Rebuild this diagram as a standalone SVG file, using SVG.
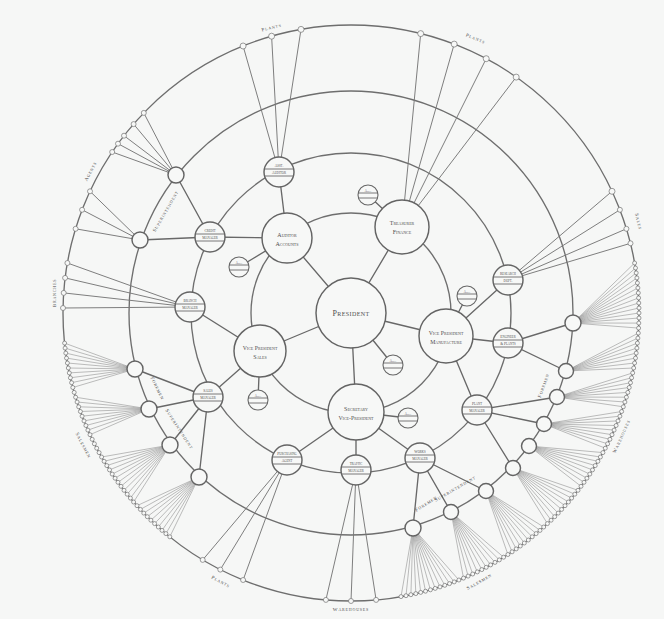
<svg xmlns="http://www.w3.org/2000/svg" width="664" height="619" viewBox="0 0 664 619">
<style>
.bg{fill:#f6f7f6}
.ring{fill:none;stroke:#6e6e6e;stroke-width:1.35}
.ln{fill:none;stroke:#686868;stroke-width:1.35}
.ln2{fill:none;stroke:#777;stroke-width:0.95}
.fan{fill:none;stroke:#888;stroke-width:0.55}
.nd{fill:#f7f8f7;stroke:#646464;stroke-width:1.45}
.sm{fill:#f7f8f7;stroke:#666;stroke-width:1.1}
.ch{stroke:#6a6a6a;stroke-width:0.9;fill:none}
.bd{fill:#f7f8f7;stroke:#737373;stroke-width:0.7}
.t{font-family:"Liberation Serif","DejaVu Serif",serif;font-variant:small-caps;fill:#4e4e4e;text-anchor:middle}
.lb{font-family:"Liberation Serif","DejaVu Serif",serif;font-variant:small-caps;fill:#4e4e4e;text-anchor:middle;font-size:5px;letter-spacing:0.8px}
</style>
<rect class="bg" width="664" height="619"/>

<g id="rings">
<circle class="ring" cx="351" cy="313" r="288"/>
<circle class="ring" cx="351" cy="313" r="222"/>
<circle class="ring" cx="351" cy="313" r="160"/>
<circle class="ring" cx="351" cy="313" r="100"/>
</g>

<g id="connectors">
<path class="ln" d="M351 313L287 238M351 313L402 227M351 313L260 351M351 313L446 336M351 313L356 412"/>
<path class="ln" d="M368 195L402 227M239 267L287 238M258 400L260 351M393 365L351 313M408 418L356 412M467 296L446 336"/>
<path class="ln" d="M279 172L287 238M210 237L287 238M190 307L260 351M208 397L260 351M287 460L356 412M356 470L356 412M420 458L356 412M477 410L446 336M508 343L446 336M508 280L446 336"/>
<path class="ln" d="M210 237L140 240M210 237L176 175M208 397L135 369M208 397L149 409M208 397L170 445M208 397L199 477M508 343L573 323M508 343L566 371M477 410L557 397M477 410L544 424M477 410L513 468M420 458L486 491M420 458L451 512M420 458L413 528"/>
<path class="ln2" d="M279 172L243.1 46M279 172L271.6 36.2M279 172L301 29.4"/>
<path class="ln2" d="M402 227L420.7 33.6M402 227L454.2 44.1M402 227L486.2 58.7M402 227L516.2 77.1"/>
<path class="ln2" d="M508 280L612 191.3M508 280L619.9 209.8M508 280L626.4 228.8M508 280L630.5 243.3"/>
<path class="ln2" d="M190 307L63 308M190 307L63.7 292.9M190 307L65.1 277.9M190 307L67.4 263"/>
<path class="ln2" d="M140 240L75.6 228.8M140 240L82.1 209.8M140 240L90 191.3"/>
<path class="ln2" d="M176 175L112.2 152M176 175L118 143.7M176 175L124 135.7M176 175L133.6 124.1M176 175L143.8 112.9"/>
<path class="ln2" d="M287 460L243.1 580M287 460L220.3 569.6M287 460L202.7 559.9"/>
<path class="ln2" d="M356 470L376.1 599.9M356 470L351 601M356 470L325.9 599.9"/>
<path class="fan" d="M573 323L634.6 263M573 323L635.5 268M573 323L636.2 272.9M573 323L636.9 277.9M573 323L637.4 282.9M573 323L637.9 287.9M573 323L638.3 292.9M573 323L638.6 297.9M573 323L638.8 303M573 323L639 308M573 323L639 313M573 323L639 318M573 323L638.8 323.1M573 323L638.6 328.1"/>
<path class="fan" d="M566 371L638.3 333.1M566 371L637.9 338.1M566 371L637.4 343.1M566 371L636.9 348.1M566 371L636.2 353.1M566 371L635.5 358.1M566 371L634.6 363M566 371L633.7 368"/>
<path class="fan" d="M557 397L632.7 372.9M557 397L631.6 377.8M557 397L630.5 382.7M557 397L629.2 387.5M557 397L627.8 392.4M557 397L626.4 397.2M557 397L624.9 402M557 397L623.3 406.8"/>
<path class="fan" d="M544 424L621.6 411.5M544 424L619.9 416.2M544 424L618 420.9M544 424L616.1 425.5M544 424L614.1 430.1M544 424L612 434.7M544 424L609.9 439.3M544 424L607.6 443.8M544 424L605.3 448.2"/>
<path class="fan" d="M529 446L602.9 452.6M529 446L600.4 457M529 446L597.9 461.3M529 446L595.2 465.6M529 446L592.5 469.9M529 446L589.8 474.1M529 446L586.9 478.2M529 446L584 482.3M529 446L581 486.3"/>
<path class="fan" d="M513 468L578 490.3M513 468L574.8 494.2M513 468L571.6 498.1M513 468L568.4 502M513 468L565 505.7M513 468L561.6 509.4M513 468L558.2 513.1M513 468L554.7 516.7M513 468L551.1 520.2M513 468L547.4 523.6"/>
<path class="fan" d="M486 491L543.7 527M486 491L540 530.4M486 491L536.1 533.6M486 491L532.2 536.8M486 491L528.3 540M486 491L524.3 543M486 491L520.3 546M486 491L516.2 548.9M486 491L512.1 551.8M486 491L507.9 554.5"/>
<path class="fan" d="M451 512L503.6 557.2M451 512L499.3 559.9M451 512L495 562.4M451 512L490.6 564.9M451 512L486.2 567.3M451 512L481.8 569.6M451 512L477.3 571.9M451 512L472.7 574M451 512L468.1 576.1M451 512L463.5 578.1"/>
<path class="fan" d="M413 528L458.9 580M413 528L454.2 581.9M413 528L449.5 583.6M413 528L444.8 585.3M413 528L440 586.9M413 528L435.2 588.4M413 528L430.4 589.8M413 528L425.5 591.2M413 528L420.7 592.4M413 528L415.8 593.6M413 528L410.9 594.7M413 528L406 595.7M413 528L401 596.6"/>
<path class="fan" d="M199 477L169.8 536.8M199 477L165.9 533.6M199 477L162 530.4M199 477L158.3 527M199 477L154.6 523.6M199 477L150.9 520.2M199 477L147.3 516.7M199 477L143.8 513.1M199 477L140.4 509.4M199 477L137 505.7"/>
<path class="fan" d="M170 445L133.6 502M170 445L130.4 498.1M170 445L127.2 494.2M170 445L124 490.3M170 445L121 486.3M170 445L118 482.3M170 445L115.1 478.2M170 445L112.2 474.1M170 445L109.5 469.9M170 445L106.8 465.6M170 445L104.1 461.3M170 445L101.6 457"/>
<path class="fan" d="M149 409L90 434.7M149 409L87.9 430.1M149 409L85.9 425.5M149 409L84 420.9M149 409L82.1 416.2M149 409L80.4 411.5M149 409L78.7 406.8M149 409L77.1 402M149 409L75.6 397.2"/>
<path class="fan" d="M135 369L72.8 387.5M135 369L71.6 382.7M135 369L70.4 377.8M135 369L69.3 372.9M135 369L68.3 368M135 369L67.4 363M135 369L66.5 358.1M135 369L65.8 353.1M135 369L65.1 348.1M135 369L64.6 343.1"/>
</g>

<g id="outer-beads">
<circle class="bd" cx="243.1" cy="46" r="3"/><circle class="bd" cx="271.6" cy="36.2" r="3"/><circle class="bd" cx="301" cy="29.4" r="3"/>
<circle class="bd" cx="420.7" cy="33.6" r="3"/><circle class="bd" cx="454.2" cy="44.1" r="3"/><circle class="bd" cx="486.2" cy="58.7" r="3"/><circle class="bd" cx="516.2" cy="77.1" r="3"/>
<circle class="bd" cx="612" cy="191.3" r="3"/><circle class="bd" cx="619.9" cy="209.8" r="2.5"/><circle class="bd" cx="626.4" cy="228.8" r="2.5"/><circle class="bd" cx="630.5" cy="243.3" r="2.5"/>
<circle class="bd" cx="63" cy="308" r="2.5"/><circle class="bd" cx="63.7" cy="292.9" r="2.5"/><circle class="bd" cx="65.1" cy="277.9" r="2.5"/><circle class="bd" cx="67.4" cy="263" r="2.5"/>
<circle class="bd" cx="75.6" cy="228.8" r="2.5"/><circle class="bd" cx="82.1" cy="209.8" r="2.5"/><circle class="bd" cx="90" cy="191.3" r="2.5"/>
<circle class="bd" cx="112.2" cy="152" r="2.5"/><circle class="bd" cx="118" cy="143.7" r="2.5"/><circle class="bd" cx="124" cy="135.7" r="2.5"/><circle class="bd" cx="133.6" cy="124.1" r="2.5"/><circle class="bd" cx="143.8" cy="112.9" r="2.5"/>
<circle class="bd" cx="243.1" cy="580" r="2.5"/><circle class="bd" cx="220.3" cy="569.6" r="2.5"/><circle class="bd" cx="202.7" cy="559.9" r="2.5"/>
<circle class="bd" cx="376.1" cy="599.9" r="2.5"/><circle class="bd" cx="351" cy="601" r="2.5"/><circle class="bd" cx="325.9" cy="599.9" r="2.5"/>
<circle class="bd" cx="634.6" cy="263" r="2"/><circle class="bd" cx="635.5" cy="268" r="2"/><circle class="bd" cx="636.2" cy="272.9" r="2"/><circle class="bd" cx="636.9" cy="277.9" r="2"/><circle class="bd" cx="637.4" cy="282.9" r="2"/><circle class="bd" cx="637.9" cy="287.9" r="2"/><circle class="bd" cx="638.3" cy="292.9" r="2"/><circle class="bd" cx="638.6" cy="297.9" r="2"/><circle class="bd" cx="638.8" cy="303" r="2"/><circle class="bd" cx="639" cy="308" r="2"/><circle class="bd" cx="639" cy="313" r="2"/><circle class="bd" cx="639" cy="318" r="2"/><circle class="bd" cx="638.8" cy="323.1" r="2"/><circle class="bd" cx="638.6" cy="328.1" r="2"/>
<circle class="bd" cx="638.3" cy="333.1" r="2"/><circle class="bd" cx="637.9" cy="338.1" r="2"/><circle class="bd" cx="637.4" cy="343.1" r="2"/><circle class="bd" cx="636.9" cy="348.1" r="2"/><circle class="bd" cx="636.2" cy="353.1" r="2"/><circle class="bd" cx="635.5" cy="358.1" r="2"/><circle class="bd" cx="634.6" cy="363" r="2"/><circle class="bd" cx="633.7" cy="368" r="2"/>
<circle class="bd" cx="632.7" cy="372.9" r="2"/><circle class="bd" cx="631.6" cy="377.8" r="2"/><circle class="bd" cx="630.5" cy="382.7" r="2"/><circle class="bd" cx="629.2" cy="387.5" r="2"/><circle class="bd" cx="627.8" cy="392.4" r="2"/><circle class="bd" cx="626.4" cy="397.2" r="2"/><circle class="bd" cx="624.9" cy="402" r="2"/><circle class="bd" cx="623.3" cy="406.8" r="2"/>
<circle class="bd" cx="621.6" cy="411.5" r="2"/><circle class="bd" cx="619.9" cy="416.2" r="2"/><circle class="bd" cx="618" cy="420.9" r="2"/><circle class="bd" cx="616.1" cy="425.5" r="2"/><circle class="bd" cx="614.1" cy="430.1" r="2"/><circle class="bd" cx="612" cy="434.7" r="2"/><circle class="bd" cx="609.9" cy="439.3" r="2"/><circle class="bd" cx="607.6" cy="443.8" r="2"/><circle class="bd" cx="605.3" cy="448.2" r="2"/>
<circle class="bd" cx="602.9" cy="452.6" r="2"/><circle class="bd" cx="600.4" cy="457" r="2"/><circle class="bd" cx="597.9" cy="461.3" r="2"/><circle class="bd" cx="595.2" cy="465.6" r="2"/><circle class="bd" cx="592.5" cy="469.9" r="2"/><circle class="bd" cx="589.8" cy="474.1" r="2"/><circle class="bd" cx="586.9" cy="478.2" r="2"/><circle class="bd" cx="584" cy="482.3" r="2"/><circle class="bd" cx="581" cy="486.3" r="2"/>
<circle class="bd" cx="578" cy="490.3" r="2"/><circle class="bd" cx="574.8" cy="494.2" r="2"/><circle class="bd" cx="571.6" cy="498.1" r="2"/><circle class="bd" cx="568.4" cy="502" r="2"/><circle class="bd" cx="565" cy="505.7" r="2"/><circle class="bd" cx="561.6" cy="509.4" r="2"/><circle class="bd" cx="558.2" cy="513.1" r="2"/><circle class="bd" cx="554.7" cy="516.7" r="2"/><circle class="bd" cx="551.1" cy="520.2" r="2"/><circle class="bd" cx="547.4" cy="523.6" r="2"/>
<circle class="bd" cx="543.7" cy="527" r="2"/><circle class="bd" cx="540" cy="530.4" r="2"/><circle class="bd" cx="536.1" cy="533.6" r="2"/><circle class="bd" cx="532.2" cy="536.8" r="2"/><circle class="bd" cx="528.3" cy="540" r="2"/><circle class="bd" cx="524.3" cy="543" r="2"/><circle class="bd" cx="520.3" cy="546" r="2"/><circle class="bd" cx="516.2" cy="548.9" r="2"/><circle class="bd" cx="512.1" cy="551.8" r="2"/><circle class="bd" cx="507.9" cy="554.5" r="2"/>
<circle class="bd" cx="503.6" cy="557.2" r="2"/><circle class="bd" cx="499.3" cy="559.9" r="2"/><circle class="bd" cx="495" cy="562.4" r="2"/><circle class="bd" cx="490.6" cy="564.9" r="2"/><circle class="bd" cx="486.2" cy="567.3" r="2"/><circle class="bd" cx="481.8" cy="569.6" r="2"/><circle class="bd" cx="477.3" cy="571.9" r="2"/><circle class="bd" cx="472.7" cy="574" r="2"/><circle class="bd" cx="468.1" cy="576.1" r="2"/><circle class="bd" cx="463.5" cy="578.1" r="2"/>
<circle class="bd" cx="458.9" cy="580" r="2"/><circle class="bd" cx="454.2" cy="581.9" r="2"/><circle class="bd" cx="449.5" cy="583.6" r="2"/><circle class="bd" cx="444.8" cy="585.3" r="2"/><circle class="bd" cx="440" cy="586.9" r="2"/><circle class="bd" cx="435.2" cy="588.4" r="2"/><circle class="bd" cx="430.4" cy="589.8" r="2"/><circle class="bd" cx="425.5" cy="591.2" r="2"/><circle class="bd" cx="420.7" cy="592.4" r="2"/><circle class="bd" cx="415.8" cy="593.6" r="2"/><circle class="bd" cx="410.9" cy="594.7" r="2"/><circle class="bd" cx="406" cy="595.7" r="2"/><circle class="bd" cx="401" cy="596.6" r="2"/>
<circle class="bd" cx="169.8" cy="536.8" r="2"/><circle class="bd" cx="165.9" cy="533.6" r="2"/><circle class="bd" cx="162" cy="530.4" r="2"/><circle class="bd" cx="158.3" cy="527" r="2"/><circle class="bd" cx="154.6" cy="523.6" r="2"/><circle class="bd" cx="150.9" cy="520.2" r="2"/><circle class="bd" cx="147.3" cy="516.7" r="2"/><circle class="bd" cx="143.8" cy="513.1" r="2"/><circle class="bd" cx="140.4" cy="509.4" r="2"/><circle class="bd" cx="137" cy="505.7" r="2"/>
<circle class="bd" cx="133.6" cy="502" r="2"/><circle class="bd" cx="130.4" cy="498.1" r="2"/><circle class="bd" cx="127.2" cy="494.2" r="2"/><circle class="bd" cx="124" cy="490.3" r="2"/><circle class="bd" cx="121" cy="486.3" r="2"/><circle class="bd" cx="118" cy="482.3" r="2"/><circle class="bd" cx="115.1" cy="478.2" r="2"/><circle class="bd" cx="112.2" cy="474.1" r="2"/><circle class="bd" cx="109.5" cy="469.9" r="2"/><circle class="bd" cx="106.8" cy="465.6" r="2"/><circle class="bd" cx="104.1" cy="461.3" r="2"/><circle class="bd" cx="101.6" cy="457" r="2"/>
<circle class="bd" cx="99.1" cy="452.6" r="2"/><circle class="bd" cx="96.7" cy="448.2" r="2"/><circle class="bd" cx="94.4" cy="443.8" r="2"/><circle class="bd" cx="92.2" cy="439.3" r="2"/>
<circle class="bd" cx="90" cy="434.7" r="2"/><circle class="bd" cx="87.9" cy="430.1" r="2"/><circle class="bd" cx="85.9" cy="425.5" r="2"/><circle class="bd" cx="84" cy="420.9" r="2"/><circle class="bd" cx="82.1" cy="416.2" r="2"/><circle class="bd" cx="80.4" cy="411.5" r="2"/><circle class="bd" cx="78.7" cy="406.8" r="2"/><circle class="bd" cx="77.1" cy="402" r="2"/><circle class="bd" cx="75.6" cy="397.2" r="2"/><circle class="bd" cx="74.2" cy="392.4" r="2"/>
<circle class="bd" cx="72.8" cy="387.5" r="2"/><circle class="bd" cx="71.6" cy="382.7" r="2"/><circle class="bd" cx="70.4" cy="377.8" r="2"/><circle class="bd" cx="69.3" cy="372.9" r="2"/><circle class="bd" cx="68.3" cy="368" r="2"/><circle class="bd" cx="67.4" cy="363" r="2"/><circle class="bd" cx="66.5" cy="358.1" r="2"/><circle class="bd" cx="65.8" cy="353.1" r="2"/><circle class="bd" cx="65.1" cy="348.1" r="2"/><circle class="bd" cx="64.6" cy="343.1" r="2"/>
</g>

<g id="ring3-nodes">
<circle id="r3a" class="nd" cx="176" cy="175" r="8"/>
<circle id="r3b" class="nd" cx="140" cy="240" r="8"/>
<circle id="r3c" class="nd" cx="135" cy="369" r="8"/>
<circle id="r3d" class="nd" cx="149" cy="409" r="8"/>
<circle id="r3e" class="nd" cx="170" cy="445" r="8"/>
<circle id="r3f" class="nd" cx="199" cy="477" r="8"/>
<circle id="r3g" class="nd" cx="573" cy="323" r="8"/>
<circle id="r3h" class="nd" cx="566" cy="371" r="7.5"/>
<circle id="r3i" class="nd" cx="557" cy="397" r="7.5"/>
<circle id="r3j" class="nd" cx="544" cy="424" r="7.5"/>
<circle id="r3k" class="nd" cx="529" cy="446" r="7.5"/>
<circle id="r3l" class="nd" cx="513" cy="468" r="7.5"/>
<circle id="r3m" class="nd" cx="486" cy="491" r="7.5"/>
<circle id="r3n" class="nd" cx="451" cy="512" r="7.5"/>
<circle id="r3o" class="nd" cx="413" cy="528" r="8"/>
</g>

<g id="president" transform="translate(351 313)">
<circle class="nd" r="35"/>
<text class="t" y="2.5" font-size="8" letter-spacing="0.4">President</text>
</g>
<g id="auditor" transform="translate(287 238)">
<circle class="nd" r="25"/>
<text class="t" y="-1" font-size="6">Auditor</text>
<text class="t" y="7.5" font-size="6">Accounts</text>
</g>
<g id="treasurer" transform="translate(402 227)">
<circle class="nd" r="27"/>
<text class="t" y="-2" font-size="6">Treasurer</text>
<text class="t" y="7" font-size="6">Finance</text>
</g>
<g id="vp-sales" transform="translate(260 351)">
<circle class="nd" r="26"/>
<text class="t" y="-1" font-size="5.8">Vice President</text>
<text class="t" y="8" font-size="6">Sales</text>
</g>
<g id="vp-manufacture" transform="translate(446 336)">
<circle class="nd" r="27"/>
<text class="t" y="-1" font-size="5.8">Vice President</text>
<text class="t" y="8" font-size="5.8">Manufacture</text>
</g>
<g id="secretary" transform="translate(356 412)">
<circle class="nd" r="28"/>
<text class="t" y="-1" font-size="6">Secretary</text>
<text class="t" y="8" font-size="5.8">Vice-President</text>
</g>

<g id="sat-treasurer" transform="translate(368 195)"><circle class="sm" r="10"/><path class="ch" d="M-9.8 -2H9.8M-9.5 3H9.5"/><text class="t" y="-3.5" font-size="3">Asst.</text></g>
<g id="sat-auditor" transform="translate(239 267)"><circle class="sm" r="10"/><path class="ch" d="M-9.8 -2H9.8M-9.5 3H9.5"/><text class="t" y="-3.5" font-size="3">Asst.</text></g>
<g id="sat-sales" transform="translate(258 400)"><circle class="sm" r="10"/><path class="ch" d="M-9.8 -2H9.8M-9.5 3H9.5"/><text class="t" y="-3.5" font-size="3">Asst.</text></g>
<g id="sat-president" transform="translate(393 365)"><circle class="sm" r="10"/><path class="ch" d="M-9.8 -2H9.8M-9.5 3H9.5"/><text class="t" y="-3.5" font-size="3">Asst.</text></g>
<g id="sat-secretary" transform="translate(408 418)"><circle class="sm" r="10"/><path class="ch" d="M-9.8 -2H9.8M-9.5 3H9.5"/><text class="t" y="-3.5" font-size="3">Asst.</text></g>
<g id="sat-manufacture" transform="translate(467 296)"><circle class="sm" r="10"/><path class="ch" d="M-9.8 -2H9.8M-9.5 3H9.5"/><text class="t" y="-3.5" font-size="3">Asst.</text></g>

<g id="asst-auditor" transform="translate(279 172)"><circle class="nd" r="15"/><path class="ch" d="M-14.7 -3H14.7M-14.5 4H14.5"/><text class="t" y="-5" font-size="3.6">Asst.</text><text class="t" y="2.2" font-size="3.6">Auditor</text></g>
<g id="credit" transform="translate(210 237)"><circle class="nd" r="15"/><path class="ch" d="M-14.7 -3H14.7M-14.5 4H14.5"/><text class="t" y="-5" font-size="3.6">Credit</text><text class="t" y="2.2" font-size="3.6">Manager</text></g>
<g id="branch" transform="translate(190 307)"><circle class="nd" r="15"/><path class="ch" d="M-14.7 -3H14.7M-14.5 4H14.5"/><text class="t" y="-5" font-size="3.6">Branch</text><text class="t" y="2.2" font-size="3.6">Manager</text></g>
<g id="sales-mgr" transform="translate(208 397)"><circle class="nd" r="15"/><path class="ch" d="M-14.7 -3H14.7M-14.5 4H14.5"/><text class="t" y="-5" font-size="3.6">Sales</text><text class="t" y="2.2" font-size="3.6">Manager</text></g>
<g id="purchasing" transform="translate(287 460)"><circle class="nd" r="15"/><path class="ch" d="M-14.7 -3H14.7M-14.5 4H14.5"/><text class="t" y="-5" font-size="3.6">Purchasing</text><text class="t" y="2.2" font-size="3.6">Agent</text></g>
<g id="traffic" transform="translate(356 470)"><circle class="nd" r="15"/><path class="ch" d="M-14.7 -3H14.7M-14.5 4H14.5"/><text class="t" y="-5" font-size="3.6">Traffic</text><text class="t" y="2.2" font-size="3.6">Manager</text></g>
<g id="works" transform="translate(420 458)"><circle class="nd" r="15"/><path class="ch" d="M-14.7 -3H14.7M-14.5 4H14.5"/><text class="t" y="-5" font-size="3.6">Works</text><text class="t" y="2.2" font-size="3.6">Manager</text></g>
<g id="plant" transform="translate(477 410)"><circle class="nd" r="15"/><path class="ch" d="M-14.7 -3H14.7M-14.5 4H14.5"/><text class="t" y="-5" font-size="3.6">Plant</text><text class="t" y="2.2" font-size="3.6">Manager</text></g>
<g id="engineer" transform="translate(508 343)"><circle class="nd" r="15"/><path class="ch" d="M-14.7 -3H14.7M-14.5 4H14.5"/><text class="t" y="-5" font-size="3.6">Engineer</text><text class="t" y="2.2" font-size="3.6">&amp; Plants</text></g>
<g id="research" transform="translate(508 280)"><circle class="nd" r="15"/><path class="ch" d="M-14.7 -3H14.7M-14.5 4H14.5"/><text class="t" y="-5" font-size="3.6">Research</text><text class="t" y="2.2" font-size="3.6">Dept.</text></g>

<g id="labels">
<text class="lb" transform="translate(272 29) rotate(-14)">Plants</text>
<text class="lb" transform="translate(475 40) rotate(22)">Plants</text>
<text class="lb" transform="translate(637 222) rotate(76)">Sales</text>
<text class="lb" transform="translate(623 437) rotate(-66)">Warehouses</text>
<text class="lb" transform="translate(480 583) rotate(-30)">Salesmen</text>
<text class="lb" transform="translate(351 611)">Warehouses</text>
<text class="lb" transform="translate(220 583) rotate(28)">Plants</text>
<text class="lb" transform="translate(82 446) rotate(62)">Salesmen</text>
<text class="lb" transform="translate(56 293) rotate(-90)">Branches</text>
<text class="lb" transform="translate(92 172) rotate(-62)">Agents</text>
<text class="lb" font-size="4.5" transform="translate(167 212) rotate(-60)">Superintendent</text>
<text class="lb" font-size="4.5" transform="translate(156 389) rotate(64)">Foremen</text>
<text class="lb" font-size="4.5" transform="translate(178 430) rotate(57)">Superintendent</text>
<text class="lb" font-size="4.5" transform="translate(545 386) rotate(-70)">Foremen</text>
<text class="lb" font-size="4.5" transform="translate(427 505) rotate(-32)">Foremen</text>
<text class="lb" font-size="4.5" transform="translate(456 490) rotate(-30)">Superintendent</text>
</g>
</svg>
